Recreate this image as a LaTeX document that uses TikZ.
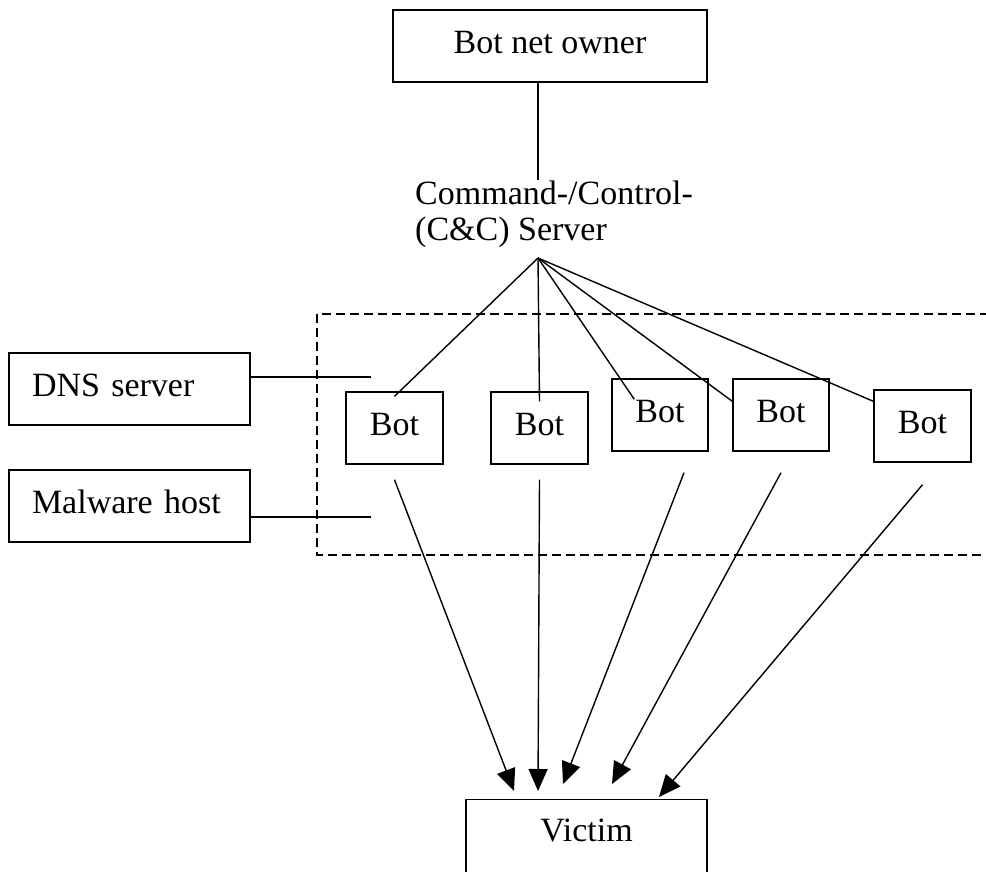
\documentclass[tikz,border=0pt]{standalone}
\usepackage{fontspec}
\setmainfont{Liberation Serif}
\usetikzlibrary{arrows.meta,calc}

\tikzset{
  box/.style={draw, line width=1.4pt, minimum height=72pt, text depth=8pt, inner sep=0pt},
  botbox/.style={box, minimum width=97pt},
  sidebox/.style={box, text width=195pt, inner xsep=23pt, align=left},
  link/.style={line width=1.4pt},
  attack/.style={line width=1.4pt, -{Triangle[length=22pt,width=19pt]}},
  zone/.style={line width=1.4pt, dash pattern=on 9pt off 5pt}
}

\begin{document}
\begin{tikzpicture}[x=1pt,y=-1pt,font=\fontsize{34}{36}\selectfont]
        \clip (0,0) rectangle (986,871);

        % boxes
        \node[box, minimum width=314pt] (owner) at (550,46) {Bot net owner};
        \node[anchor=north west, align=left, inner sep=0pt] (cc) at (415,181) {Command-/Control-\\(C\&C) Server};
        \coordinate (cctop) at (538,180);
        \coordinate (hub) at (538,258);

        \draw[zone] (317,314) rectangle (1000,555);

        \node[sidebox] (dns) at (129.5,389) {DNS server};
        \node[sidebox] (malware) at (129.5,506) {Malware host};

        \node[botbox] (bot1) at (394.5,428) {Bot};
        \node[botbox] (bot2) at (539.5,428) {Bot};
        \node[botbox, minimum width=96pt] (bot3) at (660,415) {Bot};
        \node[botbox, minimum width=96pt] (bot4) at (781,415) {Bot};
        \node[botbox] (bot5) at (922.5,426) {Bot};

        \node[box, anchor=north, minimum width=241pt, minimum height=0pt, inner ysep=19pt, text depth=100pt] (victim) at (586.5,799) {Victim};

        % owner to C&C server
        \draw[link] (owner.south -| hub) -- (cctop);

        % C&C server to bots
        \draw[link] (hub) -- ($(bot1.north)+(0,5)$);
        \draw[link] (hub) -- ($(bot2.north)+(0,10)$);
        \draw[link] (hub) -- ($(bot3.north west)+(23,21)$);
        \draw[link] (hub) -- ($(bot4.north west)+(0,23)$);
        \draw[link] (hub) -- ($(bot5.north west)+(0,12)$);

        % side services
        \coordinate (dnsend) at (371,377);
        \coordinate (malwareend) at (371,517);
        \draw[link] (dnsend -| dns.east) -- (dnsend);
        \draw[link] (malwareend -| malware.east) -- (malwareend);

        % attack
        \draw[attack] ($(bot1.south)+(0,15)$) -- ($(victim.north)+(-72.5,-8)$);
        \draw[attack] ($(bot2.south)+(0,15)$) -- ($(victim.north)+(-48.5,-8)$);
        \draw[attack] ($(bot3.south)+(24,21)$) -- ($(victim.north)+(-23.5,-15)$);
        \draw[attack] ($(bot4.south)+(0,21)$) -- ($(victim.north)+(25.5,-15)$);
        \draw[attack] ($(bot5.south)+(0,22)$) -- ($(victim.north)+(72.5,-2)$);
    \end{tikzpicture}
\end{document}
